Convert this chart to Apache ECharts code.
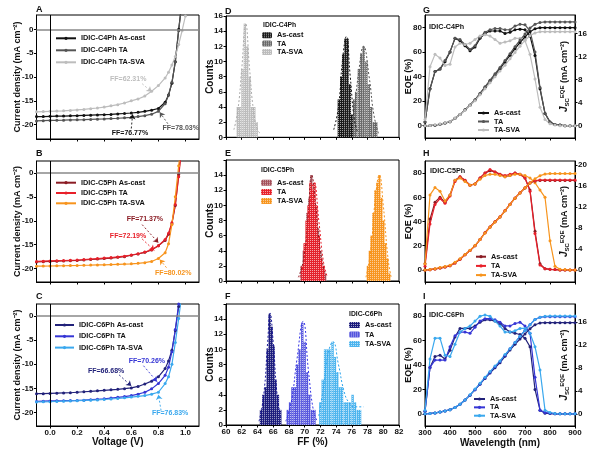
<!DOCTYPE html>
<html><head><meta charset="utf-8">
<script src="https://cdn.jsdelivr.net/npm/echarts@6/dist/echarts.min.js"></script>
<style>html,body{margin:0;padding:0;background:#fff}#c{width:600px;height:450px}</style>
</head><body><div id="c"></div>
<script>
// ---------- J-V data ----------
const voltage = [-0.1,-0.05,0,0.05,0.1,0.15,0.2,0.25,0.3,0.35,0.4,0.45,0.5,0.55,0.6,0.65,0.7,0.75,0.8,0.85,0.875,0.9,0.925,0.95,0.975,1.0];
const A_asCast = [-18.3,-18.3,-18.25,-18.2,-18.2,-18.15,-18.1,-18.05,-18.0,-17.95,-17.9,-17.85,-17.75,-17.65,-17.55,-17.4,-17.2,-16.95,-16.6,-15.3,-13.8,-11.3,-6.8,0,6,12];
const A_TA = [-19.2,-19.15,-19.1,-19.08,-19.05,-19.0,-18.98,-18.95,-18.9,-18.85,-18.8,-18.72,-18.65,-18.55,-18.45,-18.3,-18.1,-17.8,-17.2,-15.6,-13.8,-11.1,-6.8,-0.3,6,12];
const A_TASVA = [-17.3,-17.25,-17.2,-17.15,-17.1,-17.0,-16.9,-16.8,-16.65,-16.5,-16.3,-16.05,-15.8,-15.45,-15.0,-14.6,-14.0,-13.0,-11.8,-10.2,-9.0,-7.5,-5.7,-3.2,-0.3,2.8];
const B_asCast = [-18.6,-18.55,-18.5,-18.45,-18.4,-18.35,-18.3,-18.2,-18.1,-18.0,-17.9,-17.8,-17.65,-17.5,-17.2,-16.95,-16.6,-16.1,-15.2,-14.1,-12.8,-10.6,-6.8,-0.3,7,14];
const B_TA = [-18.5,-18.45,-18.4,-18.35,-18.3,-18.25,-18.2,-18.1,-18.0,-17.9,-17.8,-17.7,-17.55,-17.4,-17.15,-16.9,-16.55,-16.05,-15.2,-13.9,-12.6,-10.4,-6.6,-0.8,6,13];
const B_TASVA = [-19.5,-19.48,-19.45,-19.42,-19.4,-19.37,-19.35,-19.3,-19.27,-19.23,-19.2,-19.15,-19.1,-19.05,-19.0,-18.9,-18.75,-18.5,-17.9,-16.7,-14.8,-10.8,-5.0,1.5,8,15];
const C_asCast = [-16.1,-16.1,-16.05,-16.0,-15.95,-15.9,-15.8,-15.7,-15.6,-15.5,-15.4,-15.3,-15.2,-15.05,-14.9,-14.6,-14.1,-13.5,-12.6,-10.9,-9.3,-7.1,-3.0,2.0,8,14];
const C_TA = [-17.7,-17.65,-17.6,-17.57,-17.55,-17.52,-17.5,-17.45,-17.35,-17.25,-17.15,-17.0,-16.85,-16.7,-16.5,-16.2,-15.8,-15.1,-14.0,-12.3,-10.6,-7.4,-2.8,2.5,8,14];
const C_TASVA = [-17.8,-17.78,-17.75,-17.7,-17.65,-17.6,-17.55,-17.5,-17.45,-17.4,-17.3,-17.2,-17.1,-16.95,-16.8,-16.65,-16.5,-16.2,-15.8,-14.0,-12.6,-10.0,-5.5,-0.5,5,11];
const voltageTicks = [0,0.2,0.4,0.6,0.8,1.0];
const currentTicks = [-20,-15,-10,-5,0];

// ---------- FF histogram data ----------
const D_asCast_ff = [74.35,74.65,74.9,75.2,75.45,75.75,76.05,76.3];
const D_asCast_n  = [5,8,11,13,13,7,3,3];
const D_TA_ff = [76.3,76.55,76.9,77.2,77.5,77.85,78.15,78.45,78.8,79.1];
const D_TA_n  = [5,6,9,11,12,10,7,4,2,2];
const D_TASVA_ff = [61.5,61.8,62.1,62.4,62.7,63.0,63.3,63.6,63.9];
const D_TASVA_n  = [4,4,9,15,12,8,4,4,2];
const D_fit_asCast_x = [73.7,74.3,74.8,75.3,75.8,76.3,76.7];
const D_fit_asCast_y = [1,4,10,13.3,8,2.5,0.8];
const D_fit_TA_x = [75.6,76.2,76.8,77.5,78.2,78.8,79.4];
const D_fit_TA_y = [1,3,8,12,8,3,0.5];
const D_fit_TASVA_x = [61.0,61.5,62.0,62.5,63.0,63.5,64.0,64.4];
const D_fit_TASVA_y = [1,3.5,9,15,9,3.5,1,0.5];

const E_asCast_ff = [69.6,69.9,70.1,70.35,70.6,70.85,71.1,71.4,71.7,72.0,72.3,72.6];
const E_asCast_n  = [2,4,5,9,11,14,12,10,7,4,2,1];
const E_TA_ff = [69.75,70.0,70.25,70.5,70.75,71.0,71.25,71.5,71.8,72.1,72.4];
const E_TA_n  = [2,5,8,10,13,12,13,10,6,3,2];
const E_TASVA_ff = [78.05,78.3,78.5,78.75,79.0,79.25,79.5,79.75,80.0,80.25,80.5,80.75];
const E_TASVA_n  = [2,4,6,9,12,13,14,11,8,5,3,1];
const E_fit_asCast_x = [69.2,69.8,70.4,70.9,71.4,72.0,72.6];
const E_fit_asCast_y = [0.5,2.5,8,14,10,4,1];
const E_fit_TA_x = [69.4,70.0,70.6,71.2,71.8,72.4,72.9];
const E_fit_TA_y = [0.5,3,9.5,13,8,2.5,0.5];
const E_fit_TASVA_x = [77.8,78.4,79.0,79.5,80.0,80.6,81.0];
const E_fit_TASVA_y = [0.5,4,11,14,10,3,0.5];

const F_asCast_ff = [64.45,64.75,65.05,65.3,65.55,65.8,66.05,66.3,66.6,66.9];
const F_asCast_n  = [2,4,5,10,14.7,13,10.5,6,4,2];
const F_TA_ff = [67.85,68.15,68.45,68.75,69.05,69.35,69.7,70.0,70.3,70.6,70.95,71.25];
const F_TA_n  = [2,3,5,5,8,10,13.5,11,7,4,2,2];
const F_TASVA_ff = [72.0,72.3,72.6,72.9,73.2,73.55,73.85,74.15,74.45,74.75,75.1,75.4,75.75,76.1,76.4,76.75,77.05];
const F_TASVA_n  = [3,6,10,10,10,11,9,7,5,5,3,3,3,4,3,2,2];
const F_fit_asCast_x = [64.2,64.8,65.3,65.6,66.0,66.5,67.0];
const F_fit_asCast_y = [0.5,4,11,14.8,11,4,0.8];
const F_fit_TA_x = [67.6,68.3,69.0,69.8,70.5,71.1,71.6];
const F_fit_TA_y = [0.5,3,8.5,13.7,7,2,0.5];
const F_fit_TASVA_x = [71.8,72.4,73.0,73.6,74.3,75.0,75.6,76.3,77.5];
const F_fit_TASVA_y = [1.2,5,9.5,11,8,4.5,3,2.4,2.4];

// ---------- EQE data ----------
const wavelength = [300,320,340,360,380,400,420,440,460,480,500,520,540,560,580,600,620,640,660,680,700,720,740,760,780,800,820,840,860,880,900];
const G_eqe_asCast = [3,30,44,46,52,60,71,69,65,61,64,71,75,77,77,77,75,76,78,78.5,78,73,57,30,10,3,1,0.5,0,0,0];
const G_eqe_TA = [3,30,44,46,53,60,71,70,66,62,65,72,76,78,79,79,78,78,81,82.5,82,77,60,31,10,3,1,0.5,0,0,0];
const G_eqe_TASVA = [5,48,58,55,49,50,64,67,66,67,70,73,74,73,70,67,68,69,71,71,69,58,38,15,5,1.5,0.5,0,0,0,0];
const G_jsc_asCast = [0,0.02,0.1,0.25,0.45,0.7,1.3,1.95,2.75,3.55,4.45,5.55,6.65,7.75,8.8,9.9,11.05,12.2,13.35,14.4,15.4,16.3,16.8,17.0,17.0,17.0,17.0,17.0,17.0,17.0,17.0];
const G_jsc_TA = [0,0.02,0.1,0.25,0.45,0.7,1.3,1.95,2.75,3.6,4.5,5.6,6.75,7.9,9.0,10.1,11.3,12.5,13.7,14.85,15.9,16.95,17.6,17.9,18.0,18.0,18.0,18.0,18.0,18.0,18.0];
const G_jsc_TASVA = [0,0.05,0.15,0.3,0.5,0.75,1.3,1.95,2.7,3.5,4.35,5.35,6.4,7.45,8.5,9.5,10.5,11.6,12.7,13.8,14.8,15.6,16.1,16.3,16.3,16.3,16.3,16.3,16.3,16.3,16.3];
const H_eqe_asCast = [5,42,56,60,56,62,74,77,74,70,71,76,80,82,81,79,77,78,80,79,76,66,32,5,1,0.5,0.3,0,0,0,0];
const H_eqe_TA = [3,38,54,59,55,61,73,77,74,70,71,76,80,83,81,79,78,79,80,79,76,65,30,4,1,0.5,0.3,0,0,0,0];
const H_eqe_TASVA = [5,62,68,65,57,62,74,76,73,70,71,75,78,79,79,78,77,78,79,79,78,76,72,66,60,24,3,0.5,0.3,0,0];
const H_jsc_asCast = [0,0.05,0.2,0.35,0.55,0.8,1.35,2.05,2.9,3.7,4.6,5.8,7.1,8.2,9.2,10.1,11.3,12.5,13.7,14.7,15.65,16.6,17.0,17.1,17.1,17.1,17.1,17.1,17.1,17.1,17.1];
const H_jsc_TA = [0,0.05,0.2,0.35,0.55,0.8,1.35,2.05,2.9,3.7,4.6,5.8,7.1,8.2,9.2,10.15,11.35,12.55,13.75,14.75,15.7,16.65,17.05,17.15,17.15,17.15,17.15,17.15,17.15,17.15,17.15];
const H_jsc_TASVA = [0,0.08,0.25,0.45,0.65,0.9,1.45,2.15,2.95,3.75,4.65,5.8,7.05,8.15,9.15,10.1,11.3,12.5,13.7,14.7,15.7,16.6,17.4,18.0,18.3,18.4,18.4,18.4,18.4,18.4,18.4];
const I_eqe_asCast = [2,38,47,48,45,52,63,70,70,70,72,75,77,77,76,74,70,67,66,65,62,55,20,3,0.5,0.2,0,0,0,0,0];
const I_eqe_TA = [2,38,44,44,44,55,64,67,67,66,71,76,78,78,77,75,72,72,74,75,72,66,30,3,1,0.5,0,0,0,0,0];
const I_eqe_TASVA = [3,45,62,62,48,47,57,67,70,72,76,80,81,80,76,72,67,67,68,70,70,66,55,36,3,1,0.3,0,0,0,0];
const I_jsc_asCast = [0,0.05,0.15,0.3,0.5,0.7,1.1,1.65,2.4,3.25,4.2,5.15,6.15,7.1,8.0,8.9,10.0,11.1,12.1,13.0,13.9,14.8,15.5,15.8,15.85,15.85,15.85,15.85,15.85,15.85,15.85];
const I_jsc_TA = [0,0.05,0.15,0.3,0.5,0.7,1.1,1.65,2.4,3.25,4.2,5.2,6.25,7.25,8.2,9.1,10.2,11.3,12.4,13.5,14.5,15.5,16.4,16.8,16.9,16.9,16.9,16.9,16.9,16.9,16.9];
const I_jsc_TASVA = [0,0.05,0.15,0.3,0.5,0.7,1.1,1.65,2.4,3.3,4.3,5.3,6.35,7.35,8.3,9.2,10.3,11.3,12.4,13.5,14.5,15.5,16.4,16.8,16.95,17.0,17.0,17.0,17.0,17.0,17.0];
const eqeTicks = [0,20,40,60,80];
const jscTicks16 = [0,4,8,12,16];
const jscTicks20 = [0,4,8,12,16,20];

// ---------- styling ----------
const FONT = '"Liberation Sans", Arial, sans-serif';
const TXT = {fontFamily: FONT, fontWeight: 'bold', color: '#111'};
const grids = [
  {left:36.5, top:15, width:162.5, height:124},
  {left:36.5, top:161, width:162.5, height:121},
  {left:36.5, top:304, width:162.5, height:122},
  {left:226, top:16, width:173, height:121.3},
  {left:226, top:160, width:173, height:121},
  {left:226, top:304, width:173, height:121},
  {left:425, top:15, width:150, height:123},
  {left:425, top:161, width:150, height:121},
  {left:425, top:304, width:150, height:122}
].map(g => Object.assign({show:true, borderColor:'#000', borderWidth:1, backgroundColor:'transparent'}, g));

function axis(o) {
  const a = {
    type:'value', gridIndex:o.grid, min:o.min, max:o.max, position:o.position,
    axisLine:{show:true, onZero:false, lineStyle:{color:'#000', width:1}},
    axisTick:{show:true, length:2.5, lineStyle:{color:'#000', width:1}},
    axisLabel:Object.assign({show:o.labels !== false, fontSize:8, margin:3}, TXT),
    splitLine:{show:false}
  };
  if (o.interval != null) a.interval = o.interval;
  if (o.custom) { a.axisLabel.customValues = o.custom; a.axisTick.customValues = o.custom; }
  if (o.formatter) a.axisLabel.formatter = o.formatter;
  if (o.name) {
    a.name = o.name; a.nameLocation = 'middle'; a.nameGap = o.nameGap; a.nameMoveOverlap = false;
    if (o.nameRotate != null) a.nameRotate = o.nameRotate;
    a.nameTextStyle = Object.assign({fontSize:o.nameSize || 9}, TXT, o.rich ? {rich:o.rich} : {});
  }
  return a;
}
const fmt1 = v => v.toFixed(1);
const jvName = 'Current density (mA cm⁻²)';
const xAxes = [
  axis({grid:0, min:-0.1, max:1.1, custom:voltageTicks, labels:false}),
  axis({grid:1, min:-0.1, max:1.1, custom:voltageTicks, labels:false}),
  axis({grid:2, min:-0.1, max:1.1, custom:voltageTicks, formatter:fmt1, name:'Voltage (V)', nameGap:11, nameSize:10}),
  axis({grid:3, min:60, max:82, interval:2, labels:false}),
  axis({grid:4, min:60, max:82, interval:2, labels:false}),
  axis({grid:5, min:60, max:82, interval:2, name:'FF (%)', nameGap:12, nameSize:10}),
  axis({grid:6, min:300, max:900, interval:100, labels:false}),
  axis({grid:7, min:300, max:900, interval:100, labels:false}),
  axis({grid:8, min:300, max:900, interval:100, name:'Wavelength (nm)', nameGap:12, nameSize:10})
];
const hide16 = v => (v === 16 ? '' : String(v));
const jscRich = {
  j:{fontStyle:'italic', fontWeight:'bold', fontSize:10, fontFamily:FONT, color:'#111'},
  sub:{fontSize:6, fontWeight:'bold', fontFamily:FONT, color:'#111', verticalAlign:'bottom', padding:[5,0,0,0]},
  sup:{fontSize:6, fontWeight:'bold', fontFamily:FONT, color:'#111', verticalAlign:'top', padding:[0,0,5,0]}
};
const jscName = '{j|J}{sub|SC}{sup|EQE} (mA cm⁻²)';
const yAxes = [
  axis({grid:0, min:-23, max:3, custom:currentTicks, name:jvName, nameGap:14.5}),
  axis({grid:1, min:-22.8, max:2.5, custom:currentTicks, name:jvName, nameGap:14.5}),
  axis({grid:2, min:-22.8, max:2.5, custom:currentTicks, name:jvName, nameGap:14.5}),
  axis({grid:3, min:0, max:16, interval:2, name:'Counts', nameGap:11, nameSize:10}),
  axis({grid:4, min:0, max:16, interval:2, formatter:hide16, name:'Counts', nameGap:11, nameSize:10}),
  axis({grid:5, min:0, max:16, interval:2, formatter:hide16, name:'Counts', nameGap:11, nameSize:10}),
  axis({grid:6, min:-10, max:90, custom:eqeTicks, name:'EQE (%)', nameGap:12}),
  axis({grid:7, min:-10, max:90, custom:eqeTicks, name:'EQE (%)', nameGap:12}),
  axis({grid:8, min:-10, max:90, custom:eqeTicks, name:'EQE (%)', nameGap:12}),
  axis({grid:6, min:-2.13, max:19.2, position:'right', custom:jscTicks16, name:jscName, nameGap:-16, nameRotate:90, rich:jscRich}),
  axis({grid:7, min:-2.3, max:20.8, position:'right', custom:jscTicks20, name:jscName, nameGap:-16, nameRotate:90, rich:jscRich}),
  axis({grid:8, min:-2.12, max:19.1, position:'right', custom:jscTicks16, name:jscName, nameGap:-16, nameRotate:90, rich:jscRich})
];

const pairs = (x, y) => x.map((v, i) => [v, y[i]]);
function line(name, x, y, axIdx, yIdx, color, extra) {
  return Object.assign({
    type:'line', name, xAxisIndex:axIdx, yAxisIndex:yIdx, data:pairs(x, y),
    symbol:'circle', symbolSize:3, showSymbol:true, clip:true, z:3,
    lineStyle:{color, width:1.2}, itemStyle:{color}
  }, extra || {});
}
function bars(name, x, y, idx, color) {
  return {
    type:'bar', name, xAxisIndex:idx, yAxisIndex:idx, data:pairs(x, y),
    barWidth:2.4, barGap:'-100%',
    itemStyle:{color, decal:{symbol:'rect', symbolSize:1, dashArrayX:[1,1], dashArrayY:[1,1], color:'rgba(255,255,255,0.6)'}}
  };
}
function fit(x, y, idx, color) {
  return {type:'line', name:'fit', xAxisIndex:idx, yAxisIndex:idx, data:pairs(x, y), smooth:0.5,
    symbol:'none', z:4, lineStyle:{color, width:1, type:[2,2]}, silent:true};
}
function annot(color, text, at, from, to, zeroLines) {
  const ml = [[{coord:from, symbol:'none', lineStyle:{color, type:[2,2], width:0.9}}, {coord:to, symbol:'arrow'}]];
  if (zeroLines) {
    ml.push({yAxis:0, lineStyle:{color:'#888', width:1.6, type:'solid'}});
    ml.push({xAxis:0, lineStyle:{color:'#000', width:1, type:'solid'}});
  }
  return {
    markLine:{silent:true, animation:false, symbol:'none', symbolSize:5, label:{show:false}, data:ml},
    markPoint:{silent:true, animation:false, symbol:'rect', symbolSize:1, itemStyle:{color:'rgba(0,0,0,0)'},
      data:[{coord:at, label:{show:true, position:'inside', formatter:text, fontSize:7, fontFamily:FONT, fontWeight:'bold', color}}]}
  };
}

const c = {
  gA1:'#111111', gA2:'#555555', gA3:'#bdbdbd',
  rB1:'#8b1c24', rB2:'#e8202a', rB3:'#f7941d',
  bC1:'#22227a', bC2:'#3535d5', bC3:'#3aa8ee'
};

const series = [
  line('IDIC-C4Ph As-cast', voltage, A_asCast, 0, 0, c.gA1, annot(c.gA1, 'FF=76.77%', [0.59,-21.8], [0.6,-20.8], [0.61,-17.8], true)),
  line('IDIC-C4Ph TA', voltage, A_TA, 0, 0, c.gA2, annot(c.gA2, 'FF=78.03%', [0.965,-20.75], [0.87,-19.8], [0.81,-17.4])),
  line('IDIC-C4Ph TA-SVA', voltage, A_TASVA, 0, 0, c.gA3, annot(c.gA3, 'FF=62.31%', [0.577,-10.4], [0.68,-11.4], [0.75,-13.1])),
  line('IDIC-C5Ph As-cast', voltage, B_asCast, 1, 1, c.rB1, annot(c.rB1, 'FF=71.37%', [0.70,-9.7], [0.68,-10.8], [0.8,-14.6], true)),
  line('IDIC-C5Ph TA', voltage, B_TA, 1, 1, c.rB2, annot(c.rB2, 'FF=72.19%', [0.576,-13.1], [0.68,-13.8], [0.77,-16.2])),
  line('IDIC-C5Ph TA-SVA', voltage, B_TASVA, 1, 1, c.rB3, annot(c.rB3, 'FF=80.02%', [0.91,-20.9], [0.86,-19.8], [0.81,-18.1])),
  line('IDIC-C6Ph As-cast', voltage, C_asCast, 2, 2, c.bC1, annot(c.bC1, 'FF=66.68%', [0.414,-11.4], [0.51,-12.2], [0.6,-14.5], true)),
  line('IDIC-C6Ph TA', voltage, C_TA, 2, 2, c.bC2, annot(c.bC2, 'FF=70.26%', [0.715,-9.3], [0.69,-10.3], [0.79,-13.6])),
  line('IDIC-C6Ph TA-SVA', voltage, C_TASVA, 2, 2, c.bC3, annot(c.bC3, 'FF=76.83%', [0.887,-20.1], [0.82,-19.6], [0.8,-16.3])),
  bars('D:As-cast', D_asCast_ff, D_asCast_n, 3, '#1a1a1a'),
  bars('D:TA', D_TA_ff, D_TA_n, 3, '#6a6a6a'),
  bars('D:TA-SVA', D_TASVA_ff, D_TASVA_n, 3, '#bcbcbc'),
  fit(D_fit_asCast_x, D_fit_asCast_y, 3, '#111'),
  fit(D_fit_TA_x, D_fit_TA_y, 3, '#555'),
  fit(D_fit_TASVA_x, D_fit_TASVA_y, 3, '#aaa'),
  bars('E:As-cast', E_asCast_ff, E_asCast_n, 4, '#a4505a'),
  bars('E:TA', E_TA_ff, E_TA_n, 4, '#e8202a'),
  bars('E:TA-SVA', E_TASVA_ff, E_TASVA_n, 4, '#f7941d'),
  fit(E_fit_asCast_x, E_fit_asCast_y, 4, '#8b1c24'),
  fit(E_fit_TA_x, E_fit_TA_y, 4, '#e8202a'),
  fit(E_fit_TASVA_x, E_fit_TASVA_y, 4, '#f7941d'),
  bars('F:As-cast', F_asCast_ff, F_asCast_n, 5, '#1c1c7c'),
  bars('F:TA', F_TA_ff, F_TA_n, 5, '#5555dd'),
  bars('F:TA-SVA', F_TASVA_ff, F_TASVA_n, 5, '#4cb4ee'),
  fit(F_fit_asCast_x, F_fit_asCast_y, 5, '#1c1c9c'),
  fit(F_fit_TA_x, F_fit_TA_y, 5, '#3535e5'),
  fit(F_fit_TASVA_x, F_fit_TASVA_y, 5, '#2aa4ee'),
  line('G:As-cast', wavelength, G_eqe_asCast, 6, 6, c.gA1),
  line('G:TA', wavelength, G_eqe_TA, 6, 6, c.gA2),
  line('G:TA-SVA', wavelength, G_eqe_TASVA, 6, 6, c.gA3),
  line('G:As-cast', wavelength, G_jsc_asCast, 6, 9, c.gA1),
  line('G:TA', wavelength, G_jsc_TA, 6, 9, c.gA2),
  line('G:TA-SVA', wavelength, G_jsc_TASVA, 6, 9, c.gA3),
  line('H:As-cast', wavelength, H_eqe_asCast, 7, 7, c.rB1),
  line('H:TA', wavelength, H_eqe_TA, 7, 7, c.rB2),
  line('H:TA-SVA', wavelength, H_eqe_TASVA, 7, 7, c.rB3),
  line('H:As-cast', wavelength, H_jsc_asCast, 7, 10, c.rB1),
  line('H:TA', wavelength, H_jsc_TA, 7, 10, c.rB2),
  line('H:TA-SVA', wavelength, H_jsc_TASVA, 7, 10, c.rB3),
  line('I:As-cast', wavelength, I_eqe_asCast, 8, 8, c.bC1),
  line('I:TA', wavelength, I_eqe_TA, 8, 8, c.bC2),
  line('I:TA-SVA', wavelength, I_eqe_TASVA, 8, 8, c.bC3),
  line('I:As-cast', wavelength, I_jsc_asCast, 8, 11, c.bC1),
  line('I:TA', wavelength, I_jsc_TA, 8, 11, c.bC2),
  line('I:TA-SVA', wavelength, I_jsc_TASVA, 8, 11, c.bC3)
];

const stripPrefix = n => (n.indexOf(':') > 0 ? n.split(':')[1] : n);
function legend(names, left, top, w, h, gap) {
  return {data:names, left, top, orient:'vertical', itemWidth:w, itemHeight:h, itemGap:gap, padding:0,
    selectedMode:false, formatter:stripPrefix, textStyle:Object.assign({fontSize:7.3, lineHeight:8}, TXT)};
}
const pre = p => ['As-cast','TA','TA-SVA'].map(s => p + s);
const legends = [
  legend(pre('IDIC-C4Ph '), 55, 34.3, 20, 4, 4),
  legend(pre('IDIC-C5Ph '), 55, 178.7, 20, 4, 2.3),
  legend(pre('IDIC-C6Ph '), 54, 321, 19, 4, 3.3),
  legend(pre('D:'), 262, 31.3, 10, 6, 0.3),
  legend(pre('E:'), 261, 178.7, 11, 6, 1.2),
  legend(pre('F:'), 349, 321, 11, 6, 1.5),
  legend(pre('G:'), 477, 109, 11, 4, 0.5),
  legend(pre('H:'), 475, 252.7, 10, 4, 1.2),
  legend(pre('I:'), 473, 395, 11, 4, 0.35)
];

function label(text, left, top, size) {
  return {text, left, top, padding:0, textStyle:Object.assign({fontSize:size}, TXT)};
}
const titles = [
  label('A', 36, 5, 9), label('B', 36, 149, 9), label('C', 36, 292, 9),
  label('D', 225, 7, 9), label('E', 225, 149, 9), label('F', 225, 292, 9),
  label('G', 423, 6, 9), label('H', 423, 149, 9), label('I', 423, 292, 9),
  label('IDIC-C4Ph', 263, 22, 6.8), label('IDIC-C5Ph', 261, 167, 6.8), label('IDIC-C6Ph', 349, 311, 6.8),
  label('IDIC-C4Ph', 429, 24, 7.2), label('IDIC-C5Ph', 430, 168, 7.2), label('IDIC-C6Ph', 429, 312, 7.2)
];

const chart = echarts.init(document.getElementById('c'), null, {renderer:'canvas'});
chart.setOption({
  animation:false,
  backgroundColor:'#fff',
  textStyle:{fontFamily:FONT},
  title:titles,
  legend:legends,
  grid:grids,
  xAxis:xAxes,
  yAxis:yAxes,
  series
});
</script></body></html>
